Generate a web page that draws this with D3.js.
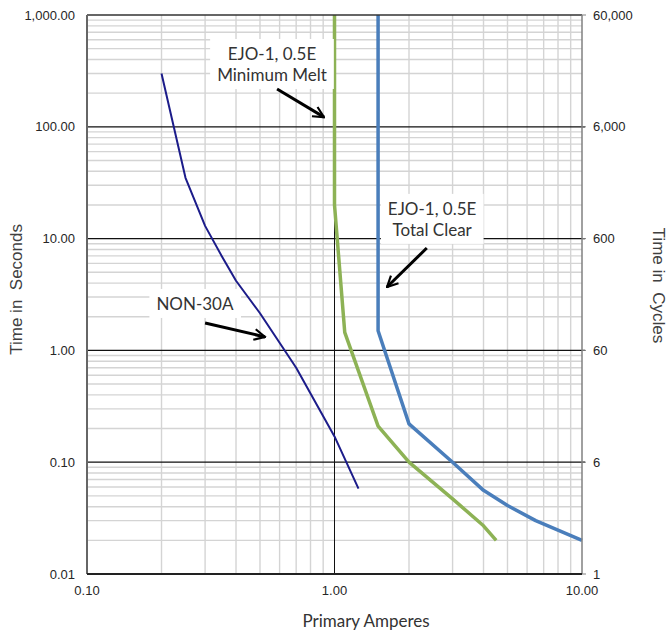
<!DOCTYPE html>
<html>
<head>
<meta charset="utf-8">
<script src="https://cdn.jsdelivr.net/npm/d3@7"></script>
<style>
  body { margin: 0; background: #fff; }
  svg { display: block; }
</style>
</head>
<body>
<div id="chart"></div>
<script>
// --- Data ---
const nonAmps  = [0.2, 0.25, 0.3, 0.35, 0.4, 0.5, 0.6, 0.7, 1.0, 1.25];
const nonSecs  = [300, 35, 13, 7.0, 4.2, 2.15, 1.17, 0.7, 0.17, 0.058];

const meltAmps = [1.0, 1.0, 1.1, 1.5, 2.0, 3.0, 4.0, 4.5];
const meltSecs = [1000, 20, 1.45, 0.21, 0.1, 0.047, 0.027, 0.02];

const clearAmps = [1.5, 1.5, 2.0, 3.0, 4.0, 5.0, 6.5, 10];
const clearSecs = [1000, 1.5, 0.22, 0.1, 0.056, 0.041, 0.03, 0.02];

const xTicks = [0.1, 1, 10];
const yTicks = [0.01, 0.1, 1, 10, 100, 1000];
const cycleTicks = [0.6, 6, 60, 600, 6000, 60000];

// annotation anchors in data units: [amps, secs]
const notes = [
  { lines: ["EJO-1, 0.5E", "Minimum Melt"], at: [0.559, 396], from: [0.586, 218], to: [0.907, 122] },
  { lines: ["EJO-1, 0.5E", "Total Clear"], at: [2.48, 16.3], from: [2.36, 8.24], to: [1.63, 3.69] },
  { lines: ["NON-30A"], at: [0.273, 2.3], from: [0.300, 1.76], to: [0.524, 1.32] }
];

// --- Setup ---
const W = 667, H = 632;
const margin = { top: 15, right: 85, bottom: 58, left: 87 };
const width = W - margin.left - margin.right;
const height = H - margin.top - margin.bottom;

const svg = d3.select("#chart").append("svg")
  .attr("width", W).attr("height", H);
const g = svg.append("g")
  .attr("transform", `translate(${margin.left},${margin.top})`);

const x = d3.scaleLog().domain([0.1, 10]).range([0, width]);
const y = d3.scaleLog().domain([0.01, 1000]).range([height, 0]);
const yc = d3.scaleLog().domain([0.6, 60000]).range([height, 0]);

// --- Grid ---
const isMajor = v => Math.abs(Math.log10(v) - Math.round(Math.log10(v))) < 1e-6;
const xMinor = x.ticks().filter(v => !isMajor(v));
const yMinor = y.ticks().filter(v => !isMajor(v));

g.selectAll("line.xminor").data(xMinor).enter().append("line")
  .attr("x1", d => x(d)).attr("x2", d => x(d))
  .attr("y1", 0).attr("y2", height)
  .attr("stroke", "#d4d4d4").attr("stroke-width", 1.4);
g.selectAll("line.yminor").data(yMinor).enter().append("line")
  .attr("y1", d => y(d)).attr("y2", d => y(d))
  .attr("x1", 0).attr("x2", width)
  .attr("stroke", "#d4d4d4").attr("stroke-width", 1.4);

g.selectAll("line.xmajor").data(xTicks.slice(1, -1)).enter().append("line")
  .attr("x1", d => x(d)).attr("x2", d => x(d))
  .attr("y1", 0).attr("y2", height)
  .attr("stroke", "#111").attr("stroke-width", 1);
g.selectAll("line.ymajor").data(yTicks.slice(1, -1)).enter().append("line")
  .attr("y1", d => y(d)).attr("y2", d => y(d))
  .attr("x1", 0).attr("x2", width + 3)
  .attr("stroke", "#111").attr("stroke-width", 1.2);

// --- Curves ---
const line = d3.line().x(d => x(d[0])).y(d => y(d[1]));
const series = [
  { amps: nonAmps, secs: nonSecs, color: "#1c1c8a", w: 2 },
  { amps: meltAmps, secs: meltSecs, color: "#8db255", w: 3.5 },
  { amps: clearAmps, secs: clearSecs, color: "#4a7ebb", w: 3.5 }
];
series.forEach(s => {
  g.append("path")
    .datum(d3.zip(s.amps, s.secs))
    .attr("d", line)
    .attr("fill", "none")
    .attr("stroke", s.color)
    .attr("stroke-width", s.w)
    .attr("stroke-linejoin", "round");
});

// --- Frame ---
g.append("line").attr("x1", 0).attr("x2", width).attr("y1", 0).attr("y2", 0)
  .attr("stroke", "#333").attr("stroke-width", 1.5);
g.append("line").attr("x1", width).attr("x2", width).attr("y1", 0).attr("y2", height)
  .attr("stroke", "#808080").attr("stroke-width", 1.5);
g.append("line").attr("x1", 0).attr("x2", 0).attr("y1", 0).attr("y2", height)
  .attr("stroke", "#666").attr("stroke-width", 2);
g.append("line").attr("x1", 0).attr("x2", width).attr("y1", height).attr("y2", height)
  .attr("stroke", "#222").attr("stroke-width", 2);

// --- Axes labels ---
const tickFont = "'Liberation Sans', Arial, sans-serif";
g.selectAll("text.yl").data(yTicks).enter().append("text")
  .attr("x", -12).attr("y", d => y(d)).attr("dy", "0.35em")
  .attr("text-anchor", "end")
  .attr("font-family", tickFont).attr("font-size", 13).attr("fill", "#262626")
  .text(d => d3.format(",.2f")(d));

g.selectAll("text.xl").data(xTicks).enter().append("text")
  .attr("x", d => x(d)).attr("y", height + 16).attr("dy", "0.35em")
  .attr("text-anchor", "middle")
  .attr("font-family", tickFont).attr("font-size", 13).attr("fill", "#262626")
  .text(d => d3.format(".2f")(d));

g.selectAll("line.ct").data(cycleTicks).enter().append("line")
  .attr("x1", width).attr("x2", width + 4)
  .attr("y1", d => yc(d)).attr("y2", d => yc(d))
  .attr("stroke", "#808080").attr("stroke-width", 1);
g.selectAll("text.cl").data(cycleTicks).enter().append("text")
  .attr("x", width + 11).attr("y", d => yc(d)).attr("dy", "0.35em")
  .attr("text-anchor", "start")
  .attr("font-family", tickFont).attr("font-size", 13).attr("fill", "#262626")
  .text(d => d3.format(",.0f")(d));

// --- Axis titles ---
svg.append("text")
  .attr("transform", `translate(22,${margin.top + y(1) - 61}) rotate(-90)`)
  .attr("text-anchor", "middle")
  .attr("font-family", tickFont).attr("font-size", 17).attr("fill", "#404040")
  .style("white-space", "pre")
  .text("Time in  Seconds");
svg.append("text")
  .attr("transform", `translate(653,${margin.top + y(1) - 65}) rotate(90)`)
  .attr("text-anchor", "middle")
  .attr("font-family", tickFont).attr("font-size", 17).attr("fill", "#404040")
  .style("white-space", "pre")
  .text("Time in  Cycles");
svg.append("text")
  .attr("x", 366).attr("y", 627)
  .attr("text-anchor", "middle")
  .attr("font-family", "Lato, sans-serif").attr("font-size", 17).attr("fill", "#333")
  .text("Primary Amperes");

// --- Annotations ---
svg.append("defs").append("marker")
  .attr("id", "arrow")
  .attr("viewBox", "0 0 10 10")
  .attr("refX", 9).attr("refY", 5)
  .attr("markerWidth", 4.5).attr("markerHeight", 4.5)
  .attr("markerUnits", "strokeWidth")
  .attr("orient", "auto")
  .append("path")
  .attr("d", "M1,1 L9,5 L1,9")
  .attr("fill", "none").attr("stroke", "#000").attr("stroke-width", 1.6)
  .attr("stroke-linejoin", "miter");

notes.forEach(n => {
  const ng = g.append("g");
  const bg = ng.append("rect").attr("fill", "#fff");
  const t = ng.append("text")
    .attr("text-anchor", "middle")
    .attr("font-family", "Lato, sans-serif").attr("font-size", 17).attr("fill", "#333");
  n.lines.forEach((l, i) => {
    t.append("tspan").attr("x", x(n.at[0])).attr("y", y(n.at[1]) + i * 21).text(l);
  });
  const bb = t.node().getBBox();
  bg.attr("x", bb.x - 7).attr("y", bb.y - 4)
    .attr("width", bb.width + 14).attr("height", bb.height + 8);
  ng.append("line")
    .attr("x1", x(n.from[0])).attr("y1", y(n.from[1]))
    .attr("x2", x(n.to[0])).attr("y2", y(n.to[1]))
    .attr("stroke", "#000").attr("stroke-width", 3)
    .attr("marker-end", "url(#arrow)");
});
</script>
</body>
</html>
